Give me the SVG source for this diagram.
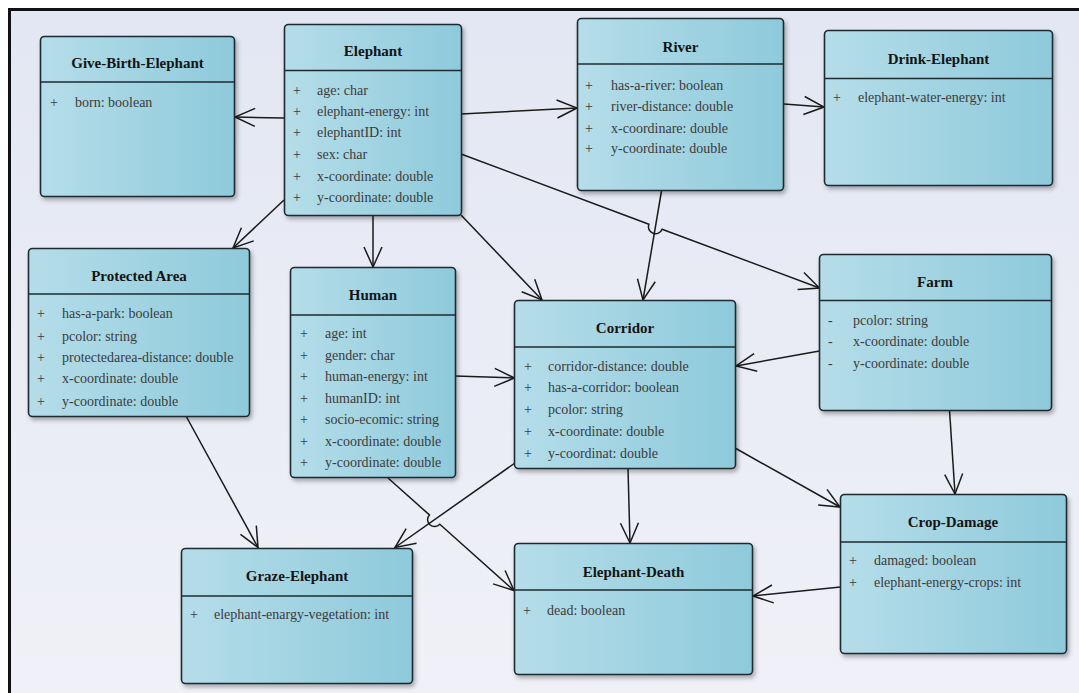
<svg xmlns="http://www.w3.org/2000/svg" width="1079" height="693" viewBox="0 0 1079 693">
  <defs>
    <linearGradient id="bg" x1="0" y1="0" x2="0" y2="1">
      <stop offset="0" stop-color="#e3e7f3"/>
      <stop offset="1" stop-color="#f0f1f7"/>
    </linearGradient>
    <linearGradient id="boxFill" x1="0" y1="0" x2="1" y2="0">
      <stop offset="0" stop-color="#b5dde9"/>
      <stop offset="1" stop-color="#8ecadb"/>
    </linearGradient>
    <filter id="shadow" x="-5%" y="-5%" width="115%" height="115%">
      <feDropShadow dx="2" dy="3" stdDeviation="2" flood-color="#000" flood-opacity="0.3"/>
    </filter>
    <marker id="arr" markerUnits="userSpaceOnUse" markerWidth="26" markerHeight="24" viewBox="-23 -12 26 24" refX="0" refY="0" orient="auto" overflow="visible">
      <path d="M-20,-9 L0,0 L-20,9" fill="none" stroke="#1a1a1a" stroke-width="1.5"/>
    </marker>
  </defs>
  <style>
    .box { fill: url(#boxFill); stroke: #1e2b30; stroke-width: 1.6; filter: url(#shadow); }
    .div { stroke: #1e2b30; stroke-width: 1.6; }
    .t { font-family: "Liberation Serif", "Times New Roman", serif; font-weight: bold; font-size: 15px; text-anchor: middle; fill: #141414; }
    .a { font-family: "Liberation Serif", "Times New Roman", serif; font-size: 14px; fill: #3b3b3b; }
    .c { fill: none; stroke: #1a1a1a; stroke-width: 1.5; marker-end: url(#arr); }
  </style>

  <!-- canvas and frame -->
  <rect x="0" y="0" width="1079" height="693" fill="#ffffff"/>
  <rect x="9" y="9" width="1070" height="684" fill="url(#bg)"/>
  <path d="M9.5,700 V9.5 H1090" fill="none" stroke="#111" stroke-width="3"/>

  <!-- associations -->
  <g id="connectors">
    <path class="c" d="M284,118 L235,117"/>
    <path class="c" d="M461,114 L577,108"/>
    <path class="c" d="M784,104 L824,107"/>
    <path class="c" d="M284,200 L233,248"/>
    <path class="c" d="M373,216 L373,267"/>
    <path class="c" d="M461,215 L542,300"/>
    <path class="c" d="M461,154 L648.9,224.2 A7,7 0 0 0 662.1,229.2 L819.5,288"/>
    <path class="c" d="M661.5,191 L643,300"/>
    <path class="c" d="M455,376 L514.5,378"/>
    <path class="c" d="M819.5,351 L736,366"/>
    <path class="c" d="M186,416 L258,547.5"/>
    <path class="c" d="M515,463 L395,547.5"/>
    <path class="c" d="M388,478 L429.4,514.9 A7,7 0 0 0 439.8,524.3 L514,590.5"/>
    <path class="c" d="M628,468 L630,543"/>
    <path class="c" d="M735,448 L840,507"/>
    <path class="c" d="M949.5,410 L955,494"/>
    <path class="c" d="M840.5,587 L753,596"/>
  </g>

  <g id="give-birth-elephant">
    <rect class="box" x="40.5" y="36.5" width="194" height="160" rx="4"/>
    <line class="div" x1="40.5" y1="82" x2="234.5" y2="82"/>
    <text class="t" x="137.5" y="68">Give-Birth-Elephant</text>
    <text class="a" x="50" y="107">+</text><text class="a" x="75" y="107">born: boolean</text>
  </g>

  <g id="elephant">
    <rect class="box" x="284.5" y="24.5" width="177" height="191" rx="4"/>
    <line class="div" x1="284.5" y1="70.5" x2="461.5" y2="70.5"/>
    <text class="t" x="373" y="56">Elephant</text>
    <text class="a" x="293" y="95">+</text><text class="a" x="317" y="95">age: char</text>
    <text class="a" x="293" y="116">+</text><text class="a" x="317" y="116">elephant-energy: int</text>
    <text class="a" x="293" y="137">+</text><text class="a" x="317" y="137">elephantID: int</text>
    <text class="a" x="293" y="159">+</text><text class="a" x="317" y="159">sex: char</text>
    <text class="a" x="293" y="181">+</text><text class="a" x="317" y="181">x-coordinate: double</text>
    <text class="a" x="293" y="202">+</text><text class="a" x="317" y="202">y-coordinate: double</text>
  </g>

  <g id="river">
    <rect class="box" x="577.5" y="18.5" width="206" height="172" rx="4"/>
    <line class="div" x1="577.5" y1="64" x2="783.5" y2="64"/>
    <text class="t" x="680.5" y="52">River</text>
    <text class="a" x="585" y="90">+</text><text class="a" x="611" y="90">has-a-river: boolean</text>
    <text class="a" x="585" y="111">+</text><text class="a" x="611" y="111">river-distance: double</text>
    <text class="a" x="585" y="133">+</text><text class="a" x="611" y="133">x-coordinare: double</text>
    <text class="a" x="585" y="153">+</text><text class="a" x="611" y="153">y-coordinate: double</text>
  </g>

  <g id="drink-elephant">
    <rect class="box" x="824.5" y="30.5" width="228" height="155" rx="4"/>
    <line class="div" x1="824.5" y1="78.5" x2="1052.5" y2="78.5"/>
    <text class="t" x="938.5" y="64">Drink-Elephant</text>
    <text class="a" x="833" y="102">+</text><text class="a" x="858" y="102">elephant-water-energy: int</text>
  </g>

  <g id="protected-area">
    <rect class="box" x="28.5" y="248.5" width="221" height="168" rx="4"/>
    <line class="div" x1="28.5" y1="294" x2="249.5" y2="294"/>
    <text class="t" x="139" y="281">Protected Area</text>
    <text class="a" x="37" y="318">+</text><text class="a" x="62" y="318">has-a-park: boolean</text>
    <text class="a" x="37" y="341">+</text><text class="a" x="62" y="341">pcolor: string</text>
    <text class="a" x="37" y="362">+</text><text class="a" x="62" y="362">protectedarea-distance: double</text>
    <text class="a" x="37" y="383">+</text><text class="a" x="62" y="383">x-coordinate: double</text>
    <text class="a" x="37" y="406">+</text><text class="a" x="62" y="406">y-coordinate: double</text>
  </g>

  <g id="human">
    <rect class="box" x="290.5" y="267.5" width="165" height="210" rx="4"/>
    <line class="div" x1="290.5" y1="315" x2="455.5" y2="315"/>
    <text class="t" x="373" y="300">Human</text>
    <text class="a" x="300" y="338">+</text><text class="a" x="325" y="338">age: int</text>
    <text class="a" x="300" y="360">+</text><text class="a" x="325" y="360">gender: char</text>
    <text class="a" x="300" y="381">+</text><text class="a" x="325" y="381">human-energy: int</text>
    <text class="a" x="300" y="403">+</text><text class="a" x="325" y="403">humanID: int</text>
    <text class="a" x="300" y="424">+</text><text class="a" x="325" y="424">socio-ecomic: string</text>
    <text class="a" x="300" y="446">+</text><text class="a" x="325" y="446">x-coordinate: double</text>
    <text class="a" x="300" y="467">+</text><text class="a" x="325" y="467">y-coordinate: double</text>
  </g>

  <g id="corridor">
    <rect class="box" x="514.5" y="300.5" width="221" height="168" rx="4"/>
    <line class="div" x1="514.5" y1="347" x2="735.5" y2="347"/>
    <text class="t" x="625" y="333">Corridor</text>
    <text class="a" x="524" y="371">+</text><text class="a" x="548" y="371">corridor-distance: double</text>
    <text class="a" x="524" y="392">+</text><text class="a" x="548" y="392">has-a-corridor: boolean</text>
    <text class="a" x="524" y="414">+</text><text class="a" x="548" y="414">pcolor: string</text>
    <text class="a" x="524" y="436">+</text><text class="a" x="548" y="436">x-coordinate: double</text>
    <text class="a" x="524" y="458">+</text><text class="a" x="548" y="458">y-coordinat: double</text>
  </g>

  <g id="farm">
    <rect class="box" x="819.5" y="254.5" width="232" height="156" rx="4"/>
    <line class="div" x1="819.5" y1="300.5" x2="1051.5" y2="300.5"/>
    <text class="t" x="935" y="287">Farm</text>
    <text class="a" x="828" y="325">-</text><text class="a" x="853" y="325">pcolor: string</text>
    <text class="a" x="828" y="346">-</text><text class="a" x="853" y="346">x-coordinate: double</text>
    <text class="a" x="828" y="368">-</text><text class="a" x="853" y="368">y-coordinate: double</text>
  </g>

  <g id="crop-damage">
    <rect class="box" x="840.5" y="494.5" width="226" height="159" rx="4"/>
    <line class="div" x1="840.5" y1="542" x2="1066.5" y2="542"/>
    <text class="t" x="953" y="527">Crop-Damage</text>
    <text class="a" x="849" y="565">+</text><text class="a" x="874" y="565">damaged: boolean</text>
    <text class="a" x="849" y="587">+</text><text class="a" x="874" y="587">elephant-energy-crops: int</text>
  </g>

  <g id="graze-elephant">
    <rect class="box" x="181.5" y="548.5" width="231" height="135" rx="4"/>
    <line class="div" x1="181.5" y1="596" x2="412.5" y2="596"/>
    <text class="t" x="297" y="581">Graze-Elephant</text>
    <text class="a" x="190" y="619">+</text><text class="a" x="214" y="619">elephant-enargy-vegetation: int</text>
  </g>

  <g id="elephant-death">
    <rect class="box" x="514.5" y="543.5" width="238" height="131" rx="4"/>
    <line class="div" x1="514.5" y1="590" x2="752.5" y2="590"/>
    <text class="t" x="633.5" y="577">Elephant-Death</text>
    <text class="a" x="523" y="615">+</text><text class="a" x="547" y="615">dead: boolean</text>
  </g>
</svg>
